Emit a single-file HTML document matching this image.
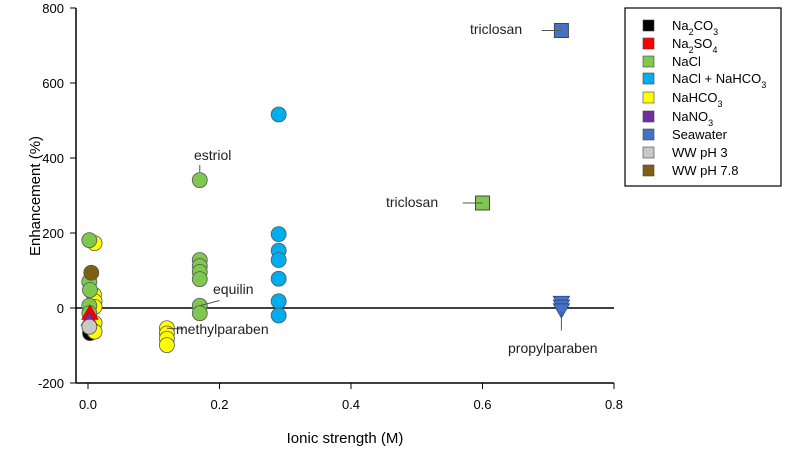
<!DOCTYPE html>
<html><head><meta charset="utf-8">
<style>
body{margin:0;background:#fff;width:789px;height:450px;overflow:hidden;font-family:"Liberation Sans",sans-serif;}
svg text{font-family:"Liberation Sans",sans-serif;}
</style></head>
<body>
<svg id="chart" width="789" height="450" viewBox="0 0 789 450" xmlns="http://www.w3.org/2000/svg">
<g id="axes"></g>
<g id="marks"></g>
<g id="labels"></g>
<g id="legend"></g>
</svg>
<script>
const xTicks=[0,0.2,0.4,0.6,0.8];
const yTicks=[-200,0,200,400,600,800];
const seriesNames=["Na2CO3","Na2SO4","NaCl","NaCl + NaHCO3","NaHCO3","NaNO3","Seawater","WW pH 3","WW pH 7.8"];
const seriesColors=["#000000","#ff0000","#7ec850","#00aeef","#ffff00","#7030a0","#4472c4","#c8c8c8","#7f5f10"];
const naclX=[0.002,0.002,0.003,0.002,0.002,0.17,0.17,0.17,0.17,0.17,0.17,0.17,0.6];
const naclY=[181,70,48,6,-14,341,128,112,96,77,6,-14,280];
const nahco3X=[0.01,0.009,0.01,0.01,0.01,0.01,0.12,0.12,0.12,0.12];
const nahco3Y=[173,35,18,3,-40,-63,-54,-68,-82,-99];
const mixX=[0.29,0.29,0.29,0.29,0.29,0.29,0.29];
const mixY=[516,197,153,128,78,18,-20];
const brownX=[0.005];const brownY=[94];
const grayX=[0.002];const grayY=[-50];
const blackX=[0.003];const blackY=[-67];
const redX=[0.003];const redY=[-14];
const purpleX=[0.002];const purpleY=[-30];
const seaSqX=[0.72];const seaSqY=[740];
const seaTriX=[0.72,0.72,0.72];const seaTriY=[15,5,-5];

const X0=88,X1=614,Y0=308,Ytop=8,Ybot=383,L=76;
const sx=v=>X0+v*(X1-X0)/0.8;
const sy=v=>Y0-v*(Y0-Ytop)/800;
const NS="http://www.w3.org/2000/svg";
function mk(tag,attrs,parent){const e=document.createElementNS(NS,tag);for(const k in attrs)e.setAttribute(k,attrs[k]);parent.appendChild(e);return e;}
const axes=document.getElementById('axes'),marks=document.getElementById('marks'),labels=document.getElementById('labels'),legend=document.getElementById('legend');

let e=mk('line',{x1:L,y1:Ytop,x2:L,y2:Ybot,stroke:'#000','stroke-width':1.5},axes);

e=mk('line',{x1:L,y1:Ybot,x2:X1,y2:Ybot,stroke:'#000','stroke-width':1.5},axes);

e=mk('line',{x1:L,y1:sy(0),x2:X1,y2:sy(0),stroke:'#000','stroke-width':1.5},axes);

xTicks.forEach(t=>{mk('line',{x1:sx(t),y1:Ybot,x2:sx(t),y2:Ybot+6,stroke:'#000'},axes);
 const tx=mk('text',{x:sx(t),y:Ybot+26,'text-anchor':'middle','font-size':13},axes);tx.textContent=t===0?'0.0':String(t);
 });
yTicks.forEach(t=>{mk('line',{x1:L-6,y1:sy(t),x2:L,y2:sy(t),stroke:'#000'},axes);
 const tx=mk('text',{x:L-12,y:sy(t)+5,'text-anchor':'end','font-size':13},axes);tx.textContent=t;
 });
e=mk('text',{x:345,y:443,'text-anchor':'middle','font-size':15},axes);e.textContent='Ionic strength (M)';

e=mk('text',{x:0,y:0,'text-anchor':'middle','font-size':15,transform:'translate(40,196) rotate(-90)'},axes);e.textContent='Enhancement (%)';


const leaders=[[0.17,341,0.17,310,'estriol',194,160],[0.17,6,0.2,20,'equilin',213,294],[0.12,-54,0.145,-56,'methylparaben',176,334],[0.6,280,0.57,280,'triclosan',386,207],[0.72,740,0.69,740,'triclosan',470,34],[0.72,-10,0.72,-60,'propylparaben',508,353]];
leaders.forEach(l=>{const ln=mk('line',{x1:sx(l[0]),y1:sy(l[1]),x2:sx(l[2]),y2:sy(l[3]),stroke:'#555'},labels);
 
 const t=mk('text',{x:l[5],y:l[6],'font-size':14,'fill':'#222'},labels);t.textContent=l[4];
 });
const l0=labels.querySelectorAll('line')[0];
l0.setAttribute('y1',sy(341)-8);l0.setAttribute('x2',sx(0.17));l0.setAttribute('y2',165);

function circles(xs,ys,c,name){xs.forEach((x,i)=>{const m=mk('circle',{cx:sx(x),cy:sy(ys[i]),r:7.5,fill:c,stroke:'#555','stroke-width':0.8},marks);
 });}
function tris(xs,ys,c,name,down){xs.forEach((x,i)=>{const cx=sx(x),cy=sy(ys[i]);const p=down?`${cx-8},${cy-6} ${cx+8},${cy-6} ${cx},${cy+8}`:`${cx-8},${cy+6} ${cx+8},${cy+6} ${cx},${cy-8}`;
 const m=mk('polygon',{points:p,fill:c,stroke:down?'#2f4f8f':'#c00','stroke-width':1},marks);
 });}
function squares(xs,ys,c,name){xs.forEach((x,i)=>{const m=mk('rect',{x:sx(x)-7,y:sy(ys[i])-7,width:14,height:14,fill:c,stroke:'#444'},marks);
 });}
circles(blackX,blackY,seriesColors[0],'na2co3-point');
circles(nahco3X,nahco3Y,seriesColors[4],'nahco3-point');
circles(naclX.slice(0,12),naclY.slice(0,12),seriesColors[2],'nacl-point');
squares(naclX.slice(12),naclY.slice(12),seriesColors[2],'nacl-triclosan-point');
circles(brownX,brownY,seriesColors[8],'ww78-point');
tris(redX,redY,seriesColors[1],'na2so4-point',false);
tris(purpleX,purpleY,seriesColors[5],'nano3-point',false);
circles(grayX,grayY,seriesColors[7],'ww3-point');
circles(mixX,mixY,seriesColors[3],'nacl-nahco3-point');
squares(seaSqX,seaSqY,seriesColors[6],'seawater-point');
tris(seaTriX,seaTriY,seriesColors[6],'seawater-point',true);

e=mk('rect',{x:625,y:8,width:156,height:178,fill:'#fff',stroke:'#000','stroke-width':1.2},legend);

const legY=[25,43,61,78,97,116,134,152,170];
const legHtml=['Na<tspan baseline-shift="sub" font-size="9">2</tspan>CO<tspan baseline-shift="sub" font-size="9">3</tspan>','Na<tspan baseline-shift="sub" font-size="9">2</tspan>SO<tspan baseline-shift="sub" font-size="9">4</tspan>','NaCl','NaCl + NaHCO<tspan baseline-shift="sub" font-size="9">3</tspan>','NaHCO<tspan baseline-shift="sub" font-size="9">3</tspan>','NaNO<tspan baseline-shift="sub" font-size="9">3</tspan>','Seawater','WW pH 3','WW pH 7.8'];
seriesNames.forEach((n,i)=>{const g=mk('g',{},legend);
 
 mk('rect',{x:643,y:legY[i]-5,width:11,height:11,fill:seriesColors[i],stroke:'#444','stroke-width':0.6},g);
 const t=mk('text',{x:672,y:legY[i]+5,'font-size':13},g);t.innerHTML=legHtml[i];});
</script>
</body></html>
